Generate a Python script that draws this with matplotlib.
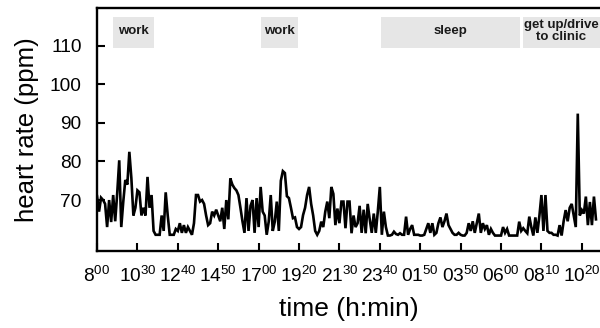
import numpy as np
import matplotlib
matplotlib.use("Agg")
import matplotlib.pyplot as plt
from matplotlib.patches import Rectangle

plt.rcParams['font.family'] = ['Liberation Sans', 'DejaVu Sans']
plt.rcParams['mathtext.fontset'] = 'custom'
plt.rcParams['mathtext.rm'] = 'Liberation Sans'

# heart-rate samples, 20 samples between consecutive tick labels
hr_0800 = [71, 67, 70.6, 70, 69, 63, 70, 64.3, 71.3, 64.5, 71.8, 80.3, 63, 69.6, 75.2, 74, 82.5, 75.7, 66, 68]
hr_1030 = [72.5, 72, 66, 68, 66, 76, 68, 71.3, 62, 61, 61, 61, 66, 62, 72, 66, 61, 61, 61, 62.5]
hr_1240 = [62, 64, 61.5, 63.5, 61.5, 63, 62, 61, 64, 71.3, 71.3, 69.6, 70, 69, 66, 63.5, 64, 67, 66, 67.5]
hr_1450 = [66, 64.5, 68, 62.5, 70, 65, 75.6, 74, 73.1, 72.5, 71.3, 68, 64.5, 61.5, 70.5, 62, 68.5, 70, 61.5, 70.5]
hr_1700 = [63, 73.4, 67, 66, 61, 64.4, 71.3, 62, 64.4, 69.6, 62, 75, 77.5, 77, 71, 70.5, 68, 65.3, 65.5, 63]
hr_1920 = [62.5, 63, 66.1, 68, 71.3, 73.4, 69, 66, 62, 61, 62, 64.4, 63, 67, 69.6, 65.3, 73.4, 71.6, 63.5, 67.8]
hr_2130 = [64, 69.6, 69.6, 62.7, 69.6, 69.6, 61.4, 66, 63, 64, 68.5, 61.5, 67.5, 61.4, 69, 65, 61.5, 66.5, 61.5, 67]
hr_2340 = [73.4, 61, 67, 63, 60.8, 60.8, 61, 61.8, 61.2, 61, 61.4, 61, 61, 65.7, 61, 62.5, 63.5, 61, 61, 61]
hr_0150 = [60.8, 60.8, 61, 62.5, 64, 61.5, 64, 61, 61.5, 64, 65.5, 63, 64.5, 66.5, 63.5, 62.5, 61.5, 61, 61, 61.5]
hr_0350 = [61, 60.8, 60.8, 61.5, 64, 62, 64.5, 61.5, 64, 66.5, 61.5, 64, 62.5, 63.5, 61, 62.5, 61.5, 60.8, 60.8, 60.8]
hr_0600 = [60.8, 63, 61.5, 62.5, 60.8, 60.8, 60.8, 60.8, 60.8, 64.4, 62, 62.7, 62, 61.4, 65.7, 63, 60.8, 65.5, 61.5, 65.9]
hr_0810 = [71.3, 62, 71.3, 62, 61.5, 61.5, 61, 61, 60.8, 63.5, 60.8, 64.5, 67.4, 64.5, 68, 69, 66, 63, 92.4, 66]
hr_1020 = [67.4, 66.5, 70.9, 63.5, 69.5, 63.5, 70.9, 65]

tick_labels = [r'$\mathregular{8^{00}}$', r'$\mathregular{10^{30}}$', r'$\mathregular{12^{40}}$',
               r'$\mathregular{14^{50}}$', r'$\mathregular{17^{00}}$', r'$\mathregular{19^{20}}$',
               r'$\mathregular{21^{30}}$', r'$\mathregular{23^{40}}$', r'$\mathregular{01^{50}}$',
               r'$\mathregular{03^{50}}$', r'$\mathregular{06^{00}}$', r'$\mathregular{08^{10}}$',
               r'$\mathregular{10^{20}}$']
samples_per_tick = 20

activity_labels = ['work', 'work', 'sleep', 'get up/drive\nto clinic']
activity_start = [7.8, 81.2, 140.6, 210.8]
activity_end = [28.0, 99.6, 209.4, 252.0]

hr = np.array(hr_0800 + hr_1030 + hr_1240 + hr_1450 + hr_1700 + hr_1920 + hr_2130 +
              hr_2340 + hr_0150 + hr_0350 + hr_0600 + hr_0810 + hr_1020)
x = np.arange(len(hr))

fig = plt.figure(figsize=(6.0, 3.28), dpi=100)
ax = fig.add_axes([0.1617, 0.2348, 0.8383, 0.74])

ax.plot(x, hr, color='black', lw=1.9, solid_joinstyle='miter')

box_lo, box_hi = 109.5, 117.5
for lab, s, e in zip(activity_labels, activity_start, activity_end):
    ax.add_patch(Rectangle((s, box_lo), e - s, box_hi - box_lo, facecolor='#e6e6e6',
                           edgecolor='none', zorder=0))
    ax.text((s + min(e, 249)) / 2, (box_lo + box_hi) / 2 + 0.3, lab, ha='center', va='center',
            fontsize=9.5, fontweight='bold', color='#1a1a1a', linespacing=0.95)

ax.set_xlim(0, 249)
ax.set_ylim(56.8, 119.7)
ax.set_xticks(np.arange(len(tick_labels)) * samples_per_tick)
ax.set_xticklabels(tick_labels)
ax.set_yticks([70, 80, 90, 100, 110])

for side in ['left', 'top', 'bottom']:
    ax.spines[side].set_linewidth(1.7)
ax.spines['right'].set_visible(False)
ax.tick_params(direction='in', length=6, width=1.5, labelsize=13.8, pad=11)
ax.tick_params(axis='x', top=False)

ax.set_ylabel('heart rate (ppm)', fontsize=18.5, labelpad=8)
ax.set_xlabel('time (h:min)', fontsize=19, labelpad=8)

fig.savefig('out.png', dpi=100)
